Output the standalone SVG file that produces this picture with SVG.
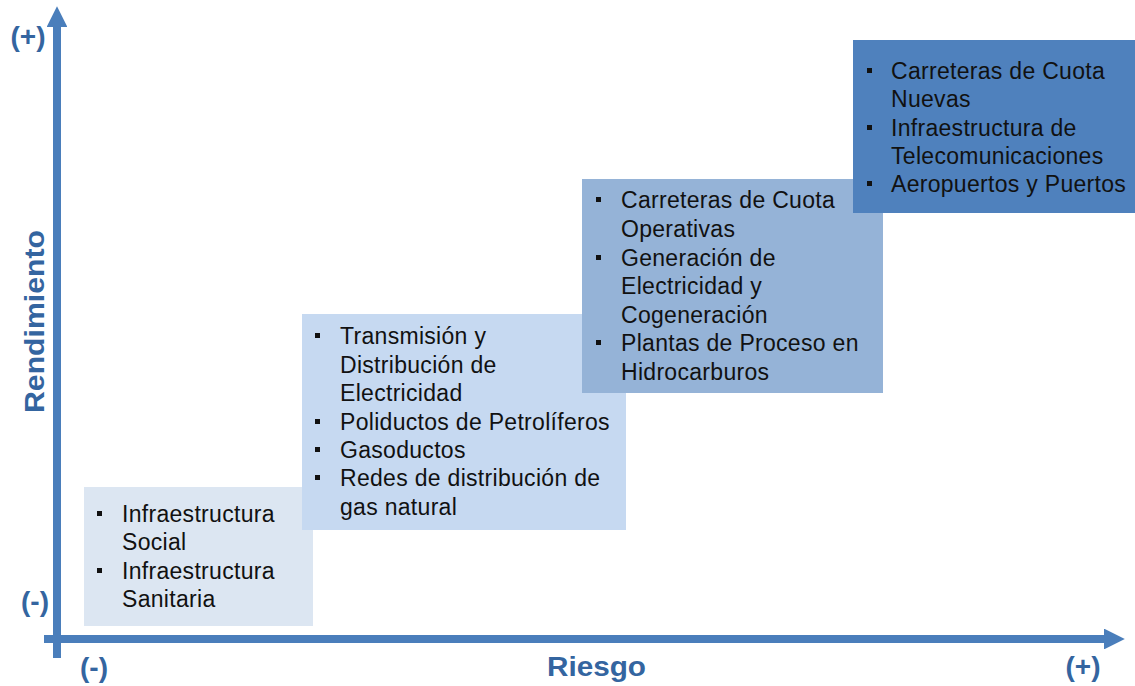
<svg xmlns="http://www.w3.org/2000/svg" width="1135" height="686" viewBox="0 0 1135 686">
  <style>
    .t { font-family: "Liberation Sans", Arial, sans-serif; font-size: 23px; fill: #111; letter-spacing: 0.3px; }
    .ax { font-family: "Liberation Sans", Arial, sans-serif; font-weight: bold; fill: #3465a0; }
    .b { fill: #111; }
  </style>
  <defs>
    <marker id="ah" viewBox="0 0 10 10" refX="0" refY="5" markerWidth="2.6" markerHeight="2.6" markerUnits="strokeWidth" orient="auto">
      <path d="M0,0 L10,5 L0,10 z" fill="#4a7ebb"/>
    </marker>
  </defs>
  <rect width="1135" height="686" fill="#ffffff"/>

  <g id="box1">
    <rect x="84" y="487" width="229" height="139" fill="#dce6f2"/>
    <rect class="b" x="97" y="511" width="5" height="5"/>
    <text class="t" x="122" y="522">Infraestructura</text>
    <text class="t" x="122" y="550">Social</text>
    <rect class="b" x="97" y="568" width="5" height="5"/>
    <text class="t" x="122" y="579">Infraestructura</text>
    <text class="t" x="122" y="607">Sanitaria</text>
  </g>

  <g id="box2">
    <rect x="302" y="314" width="324" height="216" fill="#c6d9f1"/>
    <rect class="b" x="315" y="333" width="5" height="5"/>
    <text class="t" x="340" y="344">Transmisión y</text>
    <text class="t" x="340" y="373">Distribución de</text>
    <text class="t" x="340" y="401">Electricidad</text>
    <rect class="b" x="315" y="419" width="5" height="5"/>
    <text class="t" x="340" y="430">Poliductos de Petrolíferos</text>
    <rect class="b" x="315" y="447" width="5" height="5"/>
    <text class="t" x="340" y="458">Gasoductos</text>
    <rect class="b" x="315" y="475" width="5" height="5"/>
    <text class="t" x="340" y="486">Redes de distribución de</text>
    <text class="t" x="340" y="515">gas natural</text>
  </g>

  <g id="box3">
    <rect x="582" y="179" width="301" height="214" fill="#95b3d7"/>
    <rect class="b" x="596" y="197" width="5" height="5"/>
    <text class="t" x="621" y="208">Carreteras de Cuota</text>
    <text class="t" x="621" y="237">Operativas</text>
    <rect class="b" x="596" y="255" width="5" height="5"/>
    <text class="t" x="621" y="266">Generación de</text>
    <text class="t" x="621" y="294">Electricidad y</text>
    <text class="t" x="621" y="323">Cogeneración</text>
    <rect class="b" x="596" y="340" width="5" height="5"/>
    <text class="t" x="621" y="351">Plantas de Proceso en</text>
    <text class="t" x="621" y="380">Hidrocarburos</text>
  </g>

  <g id="box4">
    <rect x="853" y="40" width="282" height="173" fill="#4f81bd"/>
    <rect class="b" x="867" y="68" width="5" height="5"/>
    <text class="t" x="891" y="79">Carreteras de Cuota</text>
    <text class="t" x="891" y="107">Nuevas</text>
    <rect class="b" x="867" y="125" width="5" height="5"/>
    <text class="t" x="891" y="136">Infraestructura de</text>
    <text class="t" x="891" y="164">Telecomunicaciones</text>
    <rect class="b" x="867" y="181" width="5" height="5"/>
    <text class="t" x="891" y="192">Aeropuertos y Puertos</text>
  </g>

  <g id="connectors">
    <line x1="57" y1="658" x2="57" y2="27" stroke="#4a7ebb" stroke-width="8" marker-end="url(#ah)"/>
    <line x1="44" y1="639" x2="1104" y2="639" stroke="#4a7ebb" stroke-width="8" marker-end="url(#ah)"/>
  </g>

  <g id="labels">
    <text class="ax" x="28" y="46" font-size="28" text-anchor="middle">(+)</text>
    <text class="ax" x="35" y="611" font-size="28" text-anchor="middle">(-)</text>
    <text class="ax" x="94" y="677" font-size="28" text-anchor="middle">(-)</text>
    <text class="ax" x="1083" y="676" font-size="28" text-anchor="middle">(+)</text>
    <text class="ax" x="547" y="676" font-size="27" textLength="99" lengthAdjust="spacingAndGlyphs">Riesgo</text>
    <text class="ax" transform="translate(44 413) rotate(-90)" x="0" y="0" font-size="27" textLength="183" lengthAdjust="spacingAndGlyphs">Rendimiento</text>
  </g>
</svg>
